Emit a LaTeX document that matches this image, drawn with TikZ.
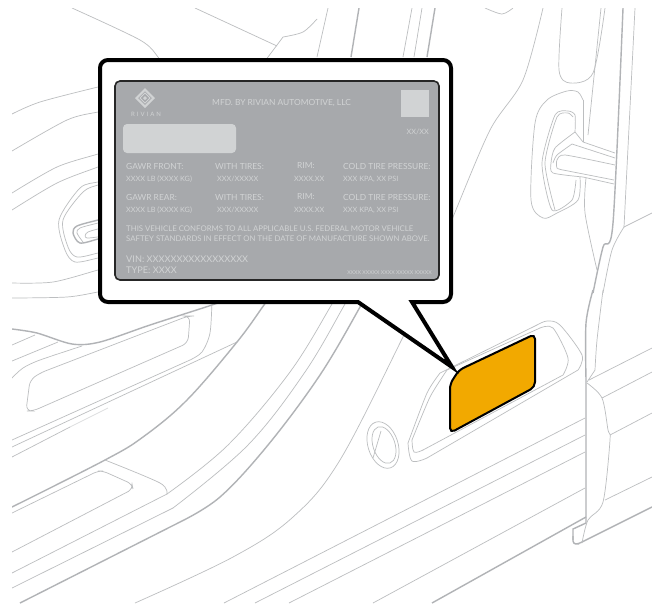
\documentclass[tikz,border=0pt]{standalone}
\usepackage{fontspec}
\setmainfont{Lato}
\usepackage{tikz}
\usetikzlibrary{positioning}
\definecolor{platefill}{HTML}{A7A9AC}
\definecolor{platetext}{HTML}{D1D3D4}
\definecolor{artline}{HTML}{BCBEC0}
\definecolor{artthick}{HTML}{B1B3B6}
\definecolor{labelamber}{HTML}{F2A900}
\begin{document}
\begin{tikzpicture}[
    x=1pt, y=-1pt,
    art/.style={draw=artline, line width=0.7pt},
    artbold/.style={draw=artthick, line width=1.4pt},
    callout/.style={draw=black, line width=4pt, fill=white, miter limit=10},
    platebox/.style={draw=black!85, line width=1.6pt, fill=platefill, rounded corners=5pt},
    pale/.style={fill=platetext, draw=none},
    plab/.style={anchor=west, inner sep=0pt, text=platetext, font=\fontsize{8.4}{9}\selectfont},
    pbody/.style={plab, font=\fontsize{7.8}{9}\selectfont},
    pvin/.style={plab, font=\fontsize{9.2}{9}\selectfont},
    psmall/.style={anchor=west, inner sep=0pt, text=platetext, font=\fontsize{7.3}{8}\selectfont}
]
\useasboundingbox (0,0) rectangle (652,603);
\fill[white] (0,0) rectangle (652,603);

\begin{scope}
\clip (12,8) rectangle (652,603);
% top edge
\draw[art] plot[smooth] coordinates {(72,8) (140,40) (158,57) (165,70)};
\draw[art] (195,8) -- (277,46);
\draw[art] plot[smooth] coordinates {(317,19) (303,32) (283,37)} -- (268,57) -- (258,70);
\draw[art] (328,8) -- (317,57);
\draw[artbold] (359,8) -- (351,57);
\draw[art] (412,8) -- (403,57);
\draw[art] (422,8) -- (414,57);
\draw[artbold] (435,8) -- (427,57);
% left side
\draw[art] plot[smooth] coordinates {(12,114) (40,102) (98,87) (110,85)};
\draw[art] plot[smooth] coordinates {(12,151) (67,120) (98,112) (110,110)};
\draw[art] plot[smooth] coordinates {(12,193) (57,167) (98,154) (110,150)};
\draw[art] plot[smooth] coordinates {(12,210) (57,183) (98,167) (110,163)};
\draw[art] plot[smooth] coordinates {(110,180) (98,182) (80,188) (59,220) (65,250) (75,262) (98,258) (110,255)};
\draw[art] plot[smooth] coordinates {(110,182) (98,185) (83,192) (63,220) (68,247) (77,257) (98,253) (110,250)};
\draw[artbold] plot[smooth] coordinates {(110,217) (98,220) (77,226) (73,233) (80,243) (98,239) (110,236)};
\draw[art] plot[smooth] coordinates {(110,220) (98,223) (80,228) (77,233) (83,242)};
\draw[art] plot[smooth] coordinates {(110,226) (88,232) (87,238) (110,235)};
\draw[art] plot[smooth] coordinates {(12,283) (53,282) (98,270) (110,267)};
\draw[art] plot[smooth] coordinates {(12,298) (67,297) (98,292) (110,290)};
% door pocket
\draw[artbold] plot[smooth] coordinates {(12,329) (37,333) (72,344) (100,342) (150,325) (212,305) (225,300)};
\draw[art] (12,345) -- (35,335);
\draw[art] (12,361) -- (58,342);
\draw[art] plot[smooth] coordinates {(12,378) (23,368) (40,360) (82,346)};
\draw[art, rounded corners=6pt] (188,316) -- (40,373) -- (30,380) -- (26,411) -- (33,411) -- (188,343) -- (190,316) -- cycle;
\draw[art] plot[smooth] coordinates {(212,300) (210,333) (202,352) (190,360)} -- (12,440);
\draw[art] (237,342) -- (12,447);
\draw[art, opacity=0.5] (108,408) -- (70,427);
\draw[art] (70,427) -- (12,457);
% sill
\draw[artbold] plot[smooth, tension=0.6] coordinates {(275,290) (264,305) (237,342) (187,400) (143,437) (105,460) (12,507)};
\draw[art, rounded corners=5pt] (12,513) -- (98,471) -- (103,471) -- (132,484) -- (133,489) -- (12,552);
\draw[art] plot[smooth] coordinates {(105,460) (160,483) (167,494)};
\draw[art] (12,573) -- (167,494);
\draw[art] plot[smooth, tension=0.6] coordinates {(167,494) (228,445) (290,372) (332,304) (340,290)};
\draw[art] (12,588) -- (173,508);
\draw[art] plot[smooth, tension=0.6] coordinates {(173,508) (248,445) (305,372) (345,304) (353,290)};
\draw[artbold] (20,603) -- (180,522);
\draw[artbold] plot[smooth, tension=0.6] coordinates {(180,522) (220,497) (268,445) (320,375) (360,307) (368,290)};
\draw[art] plot[smooth, tension=0.6] coordinates {(135,603) (233,557) (293,517) (340,460) (403,337) (415,312)};
% middle curve
\draw[art] plot[smooth] coordinates {(543,8) (523,80) (490,130) (453,217) (445,235)};
\draw[art] plot[smooth] coordinates {(485,8) (502,14) (513,8)};
% column and striker
\draw[art] plot[smooth, tension=0.5] coordinates {(562,8) (559,70) (570,83) (593,73) (605,8)};
\draw[art] (601,8) -- (588,135);
\draw[art] plot[smooth] coordinates {(586,178) (585,213) (597,270)};
\draw[art] plot[smooth] coordinates {(583,100) (578,92) (567,91) (547,100) (535,123) (531,200) (543,218) (557,213) (578,200) (580,177)};
\draw[art] (583,100) -- (583,142);
\draw[art] plot[smooth, tension=0.4] coordinates {(575,132) (575,115) (568,111) (555,115) (542,163) (552,210) (572,200) (576,180)};
\draw[art] plot[smooth, tension=0.4] coordinates {(573,117) (568,113) (557,117) (545,163) (555,210)};
\draw[art] plot[smooth, tension=0.4] coordinates {(575,132) (555,148) (551,163) (553,173) (583,177)} -- (614,184);
\draw[art] (575,132) -- (583,142) -- (615,153);
\draw[art] plot[smooth, tension=0.4] coordinates {(553,163) (557,155) (572,144)} -- (615,158);
\draw[art] plot[smooth, tension=0.4] coordinates {(615,165) (565,155) (557,160) (557,168) (563,170)} -- (614,180);
% door edge
\draw[artbold, line join=round] plot[smooth, tension=0.5] coordinates {(623,8) (613,223) (603,247) (593,293)} ;
\draw[art] (635,8) -- (624,227);
\draw[art] plot[smooth, tension=0.5] coordinates {(624,227) (612,250) (603,293)};
\draw[art] (624,227) -- (652,213);
\draw[artbold] plot[smooth, tension=0.5] coordinates {(593,290) (586,323) (586,380)} -- (586,523) -- (573,529) -- (573,540);
\draw[art] plot[smooth, tension=0.5] coordinates {(603,290) (597,340) (595,370)} -- (587,382);
\draw[artbold, rounded corners=3pt] (573,536) -- (573,544) -- (578,544) -- (652,507);
\draw[art] plot[smooth, tension=0.5] coordinates {(582,543) (588,520) (603,502) (610,440) (608,430) (602,398) (587,383)};
\draw[art] (589,380) -- (652,348);
\draw[art] (602,398) -- (652,372);
\draw[art] (610,435) -- (652,413);
\draw[art] (605,500) -- (652,477);
% door panel
\draw[art] (585,418) -- (224,603);
\draw[art] (585,435) -- (255,603);
\draw[art] (585,452) -- (289,603);
\draw[art] (585,488) -- (373,603);
\draw[artbold] (586,517) -- (432,603);
% fuel door
\draw[art, rotate around={18:(383,445)}] (383,445) ellipse (15pt and 24pt);
\draw[art, rotate around={18:(384,445)}] (384,445) ellipse (11pt and 19pt);
\draw[art] (381,431) -- (373,458);
% label recess
\draw[art] plot[smooth, tension=0.4] coordinates {(408,443) (427,393) (440,373)} -- (537,325);
\draw[art] plot[smooth, tension=0.5] coordinates {(537,325) (547,321) (560,325) (582,355) (578,370)} -- (427,458);
\draw[art] plot[smooth, tension=0.6] coordinates {(427,458) (412,461) (408,443)};
\draw[art] plot[smooth, tension=0.4] coordinates {(412,440) (430,397) (447,370)} -- (540,328);
\draw[art] plot[smooth, tension=0.5] coordinates {(540,328) (553,328) (568,358) (563,375)} -- (423,450);
\draw[art] plot[smooth, tension=0.6] coordinates {(423,450) (414,452) (412,440)};
\end{scope}

\draw[fill=labelamber, draw=black, line width=2pt, rounded corners=5pt] (450,405) -- (450,384) -- (459,370) -- (535,334) -- (535,387) -- (450,433) -- cycle;

% callout and plate
\draw[callout] (358,302) [rounded corners=8pt] -- (100,302) -- (100,60) -- (451,60) -- (451,302) [sharp corners] -- (412,302) -- (452,367) -- cycle;
\draw[platebox] (115,81) rectangle (439,280);

% logo
\begin{scope}[shift={(145,98)}]
\fill[platetext, even odd rule] (0,-10) -- (10,0) -- (0,10) -- (-10,0) -- cycle (0,-7) -- (7,0) -- (0,7) -- (-7,0) -- cycle;
\draw[platetext, line width=0.8pt] (0,-5) -- (5,0) -- (0,5) -- (-5,0) -- cycle;
\fill[platetext] (0,-2) -- (2,0) -- (0,2) -- (-2,0) -- cycle;
\end{scope}
\node[inner sep=0pt, text=platetext, font=\fontsize{6}{6}\selectfont] (brand) at (146,114) {R\,\,I\,\,V\,\,I\,\,A\,\,N};

\fill[pale] (401,90) rectangle (429,117);
\fill[pale, rounded corners=4pt] (123,124) rectangle (236,153);

\node[plab] (mfd) at (212,103.5) {MFD. BY RIVIAN AUTOMOTIVE, LLC};
\node[psmall, anchor=east] (date) at (429,132) {XX/XX};

\foreach \yy/\nm in {166/FRONT, 197/REAR} {
  \node[plab] (gawr\nm) at (126,\yy) {GAWR \nm:};
  \node[plab] (tires\nm) at (215,\yy) {WITH TIRES:};
  \node[plab] (rim\nm) at (297,\yy) {RIM:};
  \node[plab] (cold\nm) at (343,\yy) {COLD TIRE PRESSURE:};
  \node[psmall] (load\nm) at (126,\yy+13) {XXXX LB (XXXX KG)};
  \node[psmall] (size\nm) at (217,\yy+13) {XXX/XXXXX};
  \node[psmall] (width\nm) at (294,\yy+13) {XXXX.XX};
  \node[psmall] (kpa\nm) at (343,\yy+13) {XXX KPA, XX PSI};
}
\node[pbody] (conf) at (126,229) {THIS VEHICLE CONFORMS TO ALL APPLICABLE U.S. FEDERAL MOTOR VEHICLE};
\node[pbody] (safe) at (126,239) {SAFTEY STANDARDS IN EFFECT ON THE DATE OF MANUFACTURE SHOWN ABOVE.};
\node[pvin] (vin) at (126,259) {VIN: XXXXXXXXXXXXXXXXX};
\node[pvin] (type) at (126,270) {TYPE: XXXX};
\node[inner sep=0pt, anchor=east, text=platetext, font=\fontsize{5.3}{5}\selectfont] (serial) at (432,272.5) {XXXX XXXXX XXXX XXXXX XXXXX};
\end{tikzpicture}
\end{document}
